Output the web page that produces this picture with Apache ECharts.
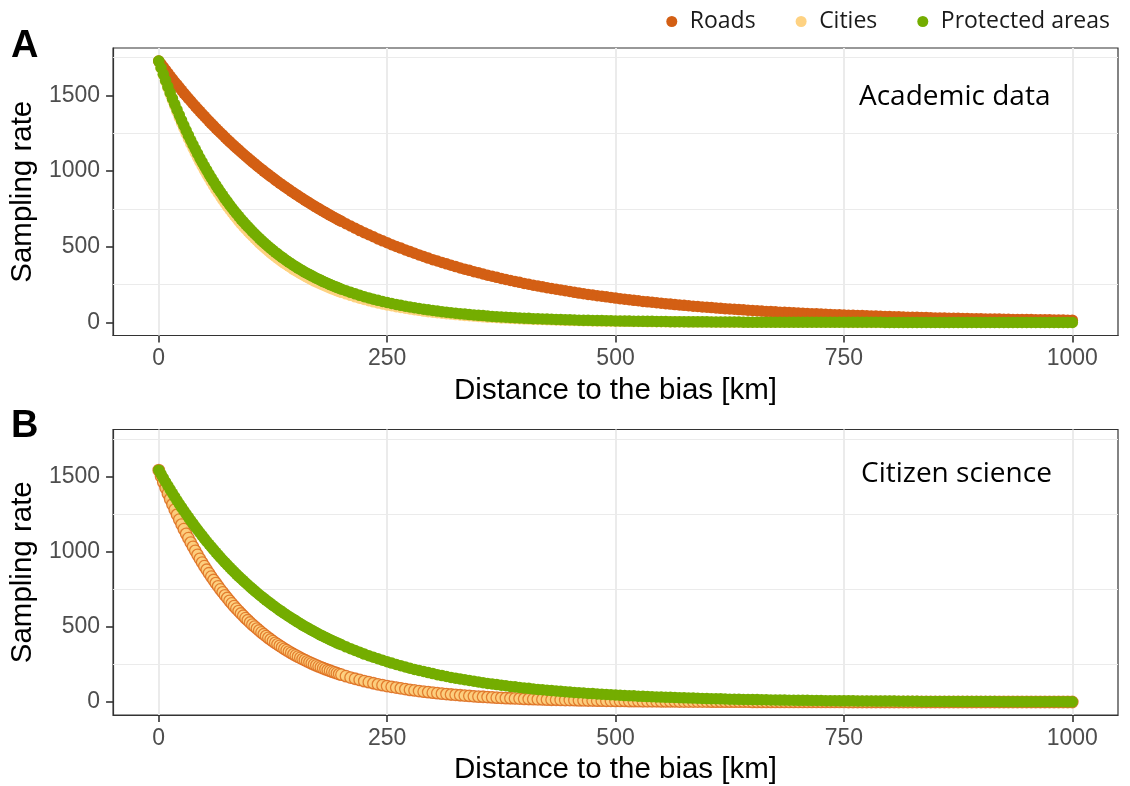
<!DOCTYPE html>
<html>
<head>
<meta charset="utf-8">
<script src="https://cdn.jsdelivr.net/npm/echarts@6/dist/echarts.min.js"></script>
<style>
  html, body { margin: 0; padding: 0; background: #fff; }
  #chart { width: 1130px; height: 786px; }
</style>
</head>
<body>
<div id="chart"></div>
<script>
// distance to the bias, km (x of every point) - denser where the curves are steep
var dist = [0,2.5,5,7.5,10,12.5,15,17.5,20,22.5,25,27.5,30,32.5,35,37.5,40,42.5,45,47.5,
  50,52.5,55,57.5,60,62.5,65,67.5,70,72.5,75,77.5,80,82.5,85,87.5,90,92.5,95,97.5,
  100,102.5,105,107.5,110,112.5,115,117.5,120,122.5,125,127.5,130,132.5,135,137.5,140,142.5,145,147.5,
  150,152.5,155,157.5,160,162.5,165,167.5,170,172.5,175,177.5,180,182.5,185,187.5,190,192.5,195,197.5,
  200,205,210,215,220,225,230,235,240,245,250,255,260,265,270,275,280,285,290,295,
  300,305,310,315,320,325,330,335,340,345,350,355,360,365,370,375,380,385,390,395,
  400,405,410,415,420,425,430,435,440,445,450,455,460,465,470,475,480,485,490,495,
  500,505,510,515,520,525,530,535,540,545,550,555,560,565,570,575,580,585,590,595,
  600,605,610,615,620,625,630,635,640,645,650,655,660,665,670,675,680,685,690,695,
  700,705,710,715,720,725,730,735,740,745,750,755,760,765,770,775,780,785,790,795,
  800,805,810,815,820,825,830,835,840,845,850,855,860,865,870,875,880,885,890,895,
  900,905,910,915,920,925,930,935,940,945,950,955,960,965,970,975,980,985,990,995,1000]

// A - academic data
var roadsA = [1727,1707,1687,1667,1647,1627,1608,1589,1571,1552,1534,1515,1498,1480,1463,1445,1428,1411,1395,1378,
  1362,1346,1330,1314,1299,1283,1268,1253,1239,1224,1209,1195,1181,1167,1153,1140,1126,1113,1100,1087,
  1074,1061,1049,1036,1024,1012,1000,988,977,965,954,942,931,920,910,899,888,878,867,857,
  847,837,827,817,808,798,789,779,770,761,752,743,735,726,717,709,700,692,684,676,
  668,652,637,622,607,593,579,566,552,539,
  527,514,502,491,479,468,457,446,436,425,
  415,406,396,387,378,369,360,352,344,335,
  328,320,312,305,298,291,284,277,271,265,
  258,252,246,241,235,229,224,219,214,209,
  204,199,194,190,185,181,177,173,169,165,
  161,157,153,150,146,143,139,136,133,130,
  127,124,121,118,115,113,110,107,105,102,
  100,98,95,93,91,89,87,85,83,81,
  79,77,75,73,72,70,68,67,65,64,
  62,61,59,58,57,55,54,53,51,50,
  49,48,47,46,45,44,43,42,41,40,
  39,38,37,36,35,34,34,33,32,31,
  30,30,29,28,28,27,26,26,25,25,
  24,23,23,22,22,21,21,20,20,19,
  19,19,18,18,17,17,16,16,16,15,
  15]
var citiesA = [1727,1681,1636,1593,1550,1509,1469,1430,1392,1354,1318,1283,1249,1216,1183,1152,1121,1091,1062,1034,
  1006,980,954,928,903,879,856,833,811,789,768,748,728,709,690,671,653,636,619,603,
  586,571,556,541,526,512,499,486,473,460,448,436,424,413,402,391,381,371,361,351,
  342,333,324,315,307,299,291,283,275,268,261,254,247,241,234,228,222,216,210,205,
  199,189,179,169,160,152,144,136,129,122,
  116,110,104,99,94,89,84,80,75,71,
  68,64,61,58,55,52,49,46,44,42,
  39,37,35,34,32,30,29,27,26,24,
  23,22,21,20,19,18,17,16,15,14,
  13,13,12,11,11,10,10,9,9,8,
  8,7,7,7,6,6,6,5,5,5,
  5,4,4,4,4,3,3,3,3,3,
  3,3,2,2,2,2,2,2,2,2,
  2,1,1,1,1,1,1,1,1,1,
  1,1,1,1,1,1,1,1,1,1,
  1,0,0,0,0,0,0,0,0,0,
  0,0,0,0,0,0,0,0,0,0,
  0,0,0,0,0,0,0,0,0,0,
  0,0,0,0,0,0,0,0,0,0,
  0,0,0,0,0,0,0,0,0,0,
  0]
var protectedA = [1727,1683,1640,1599,1558,1518,1480,1442,1405,1370,1335,1301,1268,1236,1204,1174,1144,1115,1086,1059,
  1032,1006,980,955,931,907,884,862,840,818,798,777,758,738,720,701,683,666,649,633,
  617,601,586,571,556,542,528,515,502,489,477,464,453,441,430,419,408,398,388,378,
  368,359,350,341,332,324,316,308,300,292,285,278,270,264,257,250,244,238,232,226,
  220,209,199,189,179,170,162,153,146,138,
  132,125,119,113,107,102,97,92,87,83,
  79,75,71,67,64,61,58,55,52,49,
  47,45,42,40,38,36,34,33,31,30,
  28,27,25,24,23,22,21,20,19,18,
  17,16,15,14,14,13,12,12,11,11,
  10,10,9,9,8,8,7,7,7,6,
  6,6,5,5,5,5,4,4,4,4,
  4,3,3,3,3,3,3,3,2,2,
  2,2,2,2,2,2,2,2,1,1,
  1,1,1,1,1,1,1,1,1,1,
  1,1,1,1,1,1,1,1,1,0,
  0,0,0,0,0,0,0,0,0,0,
  0,0,0,0,0,0,0,0,0,0,
  0,0,0,0,0,0,0,0,0,0,
  0,0,0,0,0,0,0,0,0,0,
  0]

// B - citizen science
var roadsB = [1543,1502,1463,1424,1386,1350,1314,1280,1246,1213,1181,1150,1119,1090,1061,1033,1006,979,953,928,
  904,880,857,834,812,791,770,749,730,710,692,673,656,638,621,605,589,574,558,544,
  529,515,502,489,476,463,451,439,427,416,405,394,384,374,364,354,345,336,327,318,
  310,302,294,286,279,271,264,257,250,244,237,231,225,219,213,208,202,197,192,186,
  182,172,163,155,147,139,132,125,118,112,
  106,101,96,91,86,81,77,73,69,66,
  62,59,56,53,50,48,45,43,41,38,
  36,35,33,31,29,28,26,25,24,23,
  21,20,19,18,17,16,15,15,14,13,
  13,12,11,11,10,10,9,9,8,8,
  7,7,7,6,6,6,5,5,5,5,
  4,4,4,4,3,3,3,3,3,3,
  3,2,2,2,2,2,2,2,2,2,
  1,1,1,1,1,1,1,1,1,1,
  1,1,1,1,1,1,1,1,1,1,
  1,0,0,0,0,0,0,0,0,0,
  0,0,0,0,0,0,0,0,0,0,
  0,0,0,0,0,0,0,0,0,0,
  0,0,0,0,0,0,0,0,0,0,
  0,0,0,0,0,0,0,0,0,0,
  0]
// cities sit right on top of roads in panel B
var citiesB = roadsB
var protectedB = [1543,1516,1490,1464,1439,1414,1389,1365,1341,1318,1295,1273,1251,1229,1208,1187,1166,1146,1126,1107,
  1087,1068,1050,1032,1014,996,979,962,945,929,913,897,881,866,851,836,822,808,794,780,
  766,753,740,727,714,702,690,678,666,655,643,632,621,610,600,589,579,569,559,550,
  540,531,521,512,503,495,486,478,469,461,453,445,438,430,423,415,408,401,394,387,
  381,367,355,343,331,319,308,298,288,278,
  268,259,250,241,233,225,217,210,203,196,
  189,182,176,170,164,159,153,148,143,138,
  133,129,124,120,116,112,108,104,101,97,
  94,91,87,84,82,79,76,73,71,68,
  66,64,62,60,57,56,54,52,50,48,
  47,45,43,42,41,39,38,36,35,34,
  33,32,31,30,29,28,27,26,25,24,
  23,22,22,21,20,19,19,18,17,17,
  16,16,15,15,14,14,13,13,12,12,
  11,11,11,10,10,10,9,9,9,8,
  8,8,8,7,7,7,7,6,6,6,
  6,6,5,5,5,5,5,4,4,4,
  4,4,4,4,3,3,3,3,3,3,
  3,3,3,3,2,2,2,2,2,2,
  2,2,2,2,2,2,2,2,2,1,
  1]

var xTicks = [0, 250, 500, 750, 1000]
var yTicks = [0, 500, 1000, 1500]
var yMinor = [250, 750, 1250, 1750]

var colors = {
  roads: '#d35f14',
  cities: '#fed282',
  protected: '#74ad00'
}

function pts(arr) {
  return dist.map(function(d, i) { return [d, arr[i]] })
}

// light grey panel grid, drawn under the points
function gridLines() {
  var data = []
  yMinor.forEach(function(v) {
    data.push({ yAxis: v, lineStyle: { color: '#ebebeb', width: 1.2, type: 'solid' } })
  })
  xTicks.forEach(function(v) {
    data.push({ xAxis: v, lineStyle: { color: '#ebebeb', width: 2, type: 'solid' } })
  })
  return {
    silent: true,
    symbol: 'none',
    z: 1,
    animation: false,
    label: { show: false },
    emphasis: { disabled: true },
    data: data
  }
}

function plain(v) { return String(v) }

function xAx(idx) {
  return {
    type: 'value',
    gridIndex: idx,
    min: -50,
    max: 1050,
    axisLine: { show: true, onZero: false, lineStyle: { color: '#333', width: 1.2 } },
    axisTick: { show: true, customValues: xTicks, length: 7, lineStyle: { color: '#333', width: 1.6 } },
    axisLabel: { customValues: xTicks, formatter: plain, color: '#4d4d4d', fontSize: 23, fontFamily: 'Liberation Sans', margin: 12 },
    splitLine: { show: false },
    name: 'Distance to the bias [km]',
    nameLocation: 'middle',
    nameGap: 40,
    nameTextStyle: { color: '#000', fontSize: 29.5, fontFamily: 'Liberation Sans' }
  }
}

function yAx(idx) {
  return {
    type: 'value',
    gridIndex: idx,
    min: -86.35,
    max: 1813.35,
    axisLine: { show: true, onZero: false, lineStyle: { color: '#333', width: 1.2 } },
    axisTick: { show: true, customValues: yTicks, length: 7, lineStyle: { color: '#333', width: 1.6 } },
    axisLabel: { customValues: yTicks, formatter: plain, color: '#4d4d4d', fontSize: 23, fontFamily: 'Liberation Sans', margin: 13 },
    splitLine: { show: false },
    name: 'Sampling rate',
    nameLocation: 'middle',
    nameGap: 74,
    nameTextStyle: { color: '#000', fontSize: 29.5, fontFamily: 'Liberation Sans' }
  }
}

function sc(name, idx, arr, color, extra) {
  var s = {
    name: name,
    type: 'scatter',
    xAxisIndex: idx,
    yAxisIndex: idx,
    symbol: 'circle',
    symbolSize: 11.5,
    z: 3,
    itemStyle: { color: color, opacity: 1 },
    emphasis: { disabled: true },
    data: pts(arr)
  }
  if (extra) Object.assign(s, extra)
  return s
}

var chart = echarts.init(document.getElementById('chart'))
chart.setOption({
  animation: false,
  backgroundColor: '#fff',
  legend: {
    data: ['Roads', 'Cities', 'Protected areas'],
    top: 5,
    right: 15,
    icon: 'circle',
    itemWidth: 26,
    itemHeight: 11,
    itemGap: 40,
    textStyle: { color: '#1a1a1a', fontSize: 23, fontFamily: 'Open Sans' },
    selectedMode: false
  },
  grid: [
    { left: 111, top: 48, width: 1007, height: 287.5, show: true, borderColor: '#333', borderWidth: 1.2, backgroundColor: '#fff' },
    { left: 111, top: 429.5, width: 1007, height: 287.5, show: true, borderColor: '#333', borderWidth: 1.2, backgroundColor: '#fff' }
  ],
  xAxis: [xAx(0), xAx(1)],
  yAxis: [yAx(0), yAx(1)],
  graphic: [
    { type: 'text', left: 11, top: 28, style: { text: 'A', font: 'bold 38px "Liberation Sans"', fill: '#000' } },
    { type: 'text', left: 11, top: 408, style: { text: 'B', font: 'bold 38px "Liberation Sans"', fill: '#000' } },
    { type: 'text', left: 859, top: 83, style: { text: 'Academic data', font: '28px "Open Sans"', fill: '#000' } },
    { type: 'text', left: 861, top: 460, style: { text: 'Citizen science', font: '28px "Open Sans"', fill: '#000' } }
  ],
  series: [
    sc('Cities', 0, citiesA, colors.cities, { markLine: gridLines() }),
    sc('Roads', 0, roadsA, colors.roads),
    sc('Protected areas', 0, protectedA, colors.protected),
    sc('Roads', 1, roadsB, colors.roads, { markLine: gridLines() }),
    sc('Cities', 1, citiesB, colors.cities, { itemStyle: { color: colors.cities, borderColor: '#dc6a1c', borderWidth: 1.3 } }),
    sc('Protected areas', 1, protectedB, colors.protected)
  ]
})
</script>
</body>
</html>
